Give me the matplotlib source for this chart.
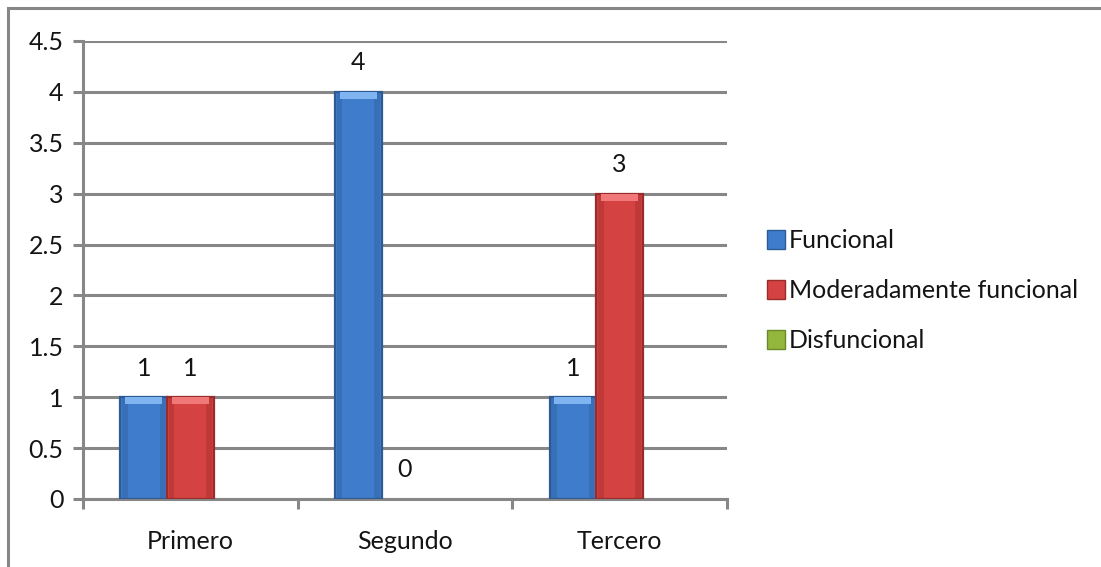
import numpy as np
import matplotlib
matplotlib.use("Agg")
import matplotlib.pyplot as plt
from matplotlib.patches import Rectangle

plt.rcParams['font.family'] = ['Lato', 'DejaVu Sans']

categories = ['Primero', 'Segundo', 'Tercero']
series_names = ['Funcional', 'Moderadamente funcional', 'Disfuncional']
funcional = [1, 4, 1]
moderado = [1, 0, 3]
disfuncional = [None, None, None]
y_ticks = [0, 0.5, 1, 1.5, 2, 2.5, 3, 3.5, 4, 4.5]
y_tick_labels = ['0', '0.5', '1', '1.5', '2', '2.5', '3', '3.5', '4', '4.5']

face = ['#3f7dcc', '#d44242', '#93b73c']
edge = ['#2d5a94', '#9a2b2b', '#6a8a2a']
light = ['#7fb4f0', '#f07878', '#c8e07a']
grid_c = '#878787'
text_c = '#141414'
fs = 18

fig = plt.figure(figsize=(11.01, 5.67), dpi=100)
ax = fig.add_axes([0.0754, 0.12, 0.5846, 0.8077])

# outer chart border (left and top edges visible)
fig.patches.append(Rectangle((8 / 1101, -0.1), 1.2, 1.1 - 8 / 567,
                             transform=fig.transFigure, fill=False,
                             edgecolor=grid_c, linewidth=2.2))

x = np.arange(len(categories))
w = 0.217
offsets = [-w, 0, w]
all_series = [funcional, moderado, disfuncional]

for k, vals in enumerate(all_series):
    for i, v in enumerate(vals):
        if v is None:
            continue
        xc = x[i] + offsets[k]
        if v > 0:
            ax.bar(xc, v, width=w, color=face[k], edgecolor=edge[k],
                   linewidth=1.6, zorder=3)
            # darker side strips and a light cap give the bar some depth
            ax.bar(xc - w * 0.4, v, width=w * 0.12, color=edge[k],
                   alpha=0.35, linewidth=0, zorder=4)
            ax.bar(xc + w * 0.4, v, width=w * 0.12, color=edge[k],
                   alpha=0.35, linewidth=0, zorder=4)
            ax.bar(xc, 0.07, bottom=v - 0.07, width=w * 0.8,
                   color=light[k], linewidth=0, zorder=5)
        ax.annotate(str(v), (xc, v), xytext=(0, 21), textcoords='offset points',
                    ha='center', va='center', fontsize=fs, color=text_c)

ax.set_xlim(-0.5, 2.5)
ax.set_ylim(0, 4.5)
ax.set_yticks(y_ticks)
ax.set_yticklabels(y_tick_labels)
ax.set_xticks(x)
ax.set_xticklabels(categories)
ax.set_xticks([-0.5, 0.5, 1.5, 2.5], minor=True)
ax.tick_params(axis='x', which='major', length=0, pad=22, labelsize=fs,
               colors=text_c)
ax.tick_params(axis='x', which='minor', length=7, width=2.2, color=grid_c)
ax.tick_params(axis='y', length=7, width=2.2, color=grid_c, pad=7,
               labelsize=fs, labelcolor=text_c)

ax.grid(axis='y', color=grid_c, linewidth=2.2, zorder=1)
ax.set_axisbelow(True)
for s in ['top', 'right']:
    ax.spines[s].set_visible(False)
for s in ['left', 'bottom']:
    ax.spines[s].set_color(grid_c)
    ax.spines[s].set_linewidth(2.2)

handles = [Rectangle((0, 0), 1, 1, facecolor=face[k], edgecolor=edge[k],
                     linewidth=1) for k in range(3)]
fig.legend(handles, series_names, loc='center left',
           bbox_to_anchor=(0.685, 0.487), frameon=False, fontsize=fs,
           borderpad=0, handlelength=0.75, handleheight=0.75,
           handletextpad=0.15, labelspacing=1.08, labelcolor=text_c)

fig.savefig('out.png', dpi=100)
